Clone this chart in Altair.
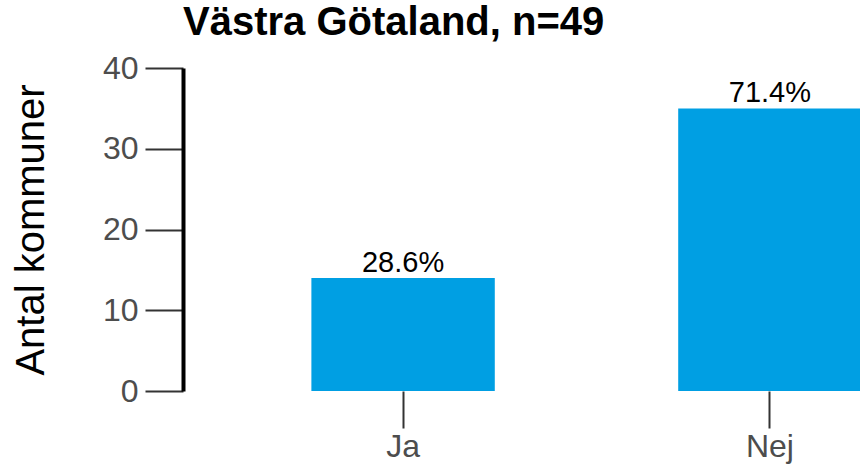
import altair as alt
import pandas as pd

categories = ["Ja", "Nej"]
counts = [14, 35]
pct_labels = ["28.6%", "71.4%"]
title_text = "Västra Götaland, n=49"
y_title = "Antal kommuner"
y_ticks = [0, 10, 20, 30, 40]

df = pd.DataFrame({"svar": categories, "antal": counts, "pct": pct_labels})

FONT = "Liberation Sans"

x_scale = alt.Scale(range=[0, 807], paddingInner=0.5, paddingOuter=0.35)
y_scale = alt.Scale(domain=[0, 40], nice=False)

x_enc = alt.X(
    "svar:N",
    sort=categories,
    title=None,
    scale=x_scale,
    axis=alt.Axis(
        domain=False,
        grid=False,
        ticks=True,
        tickSize=37,
        tickColor="#333333",
        tickWidth=2,
        labelAngle=0,
        labelFont=FONT,
        labelFontSize=32,
        labelColor="#4d4d4d",
        labelPadding=3,
    ),
)

y_enc = alt.Y(
    "antal:Q",
    title=y_title,
    scale=y_scale,
    axis=alt.Axis(
        values=y_ticks,
        grid=False,
        domain=True,
        domainColor="black",
        domainWidth=4,
        tickSize=38,
        tickColor="#333333",
        tickWidth=2,
        labelFont=FONT,
        labelFontSize=32,
        labelColor="#4d4d4d",
        labelPadding=7,
        titleFont=FONT,
        titleFontSize=40,
        titleFontWeight="normal",
        titleColor="black",
        titleAngle=-90,
        titleBaseline="alphabetic",
        titleAlign="center",
        titleX=-140,
        titleY=161.5,
    ),
)

bars = alt.Chart(df).mark_bar(color="#009FE3").encode(x=x_enc, y=y_enc)

text = alt.Chart(df).mark_text(
    font=FONT, fontSize=29, color="black", baseline="alphabetic", dy=-6
).encode(
    x=alt.X("svar:N", sort=categories),
    y=alt.Y("antal:Q"),
    text="pct:N",
)

chart = (
    alt.layer(bars, text)
    .properties(
        width=677,
        height=323,
        background="white",
        title=alt.Title(
            title_text,
            anchor="start",
            frame="group",
            font=FONT,
            fontSize=40,
            fontWeight="bold",
            color="black",
            baseline="alphabetic",
            offset=2,
            dy=25,
        ),
        autosize=alt.AutoSizeParams(type="none"),
        padding={"left": 183, "top": 68, "right": 0, "bottom": 76},
    )
    .configure_view(strokeWidth=0, stroke="transparent")
    .configure_axis(grid=False)
)

chart.save("out.html", embed_options={"renderer": "svg", "actions": False})
